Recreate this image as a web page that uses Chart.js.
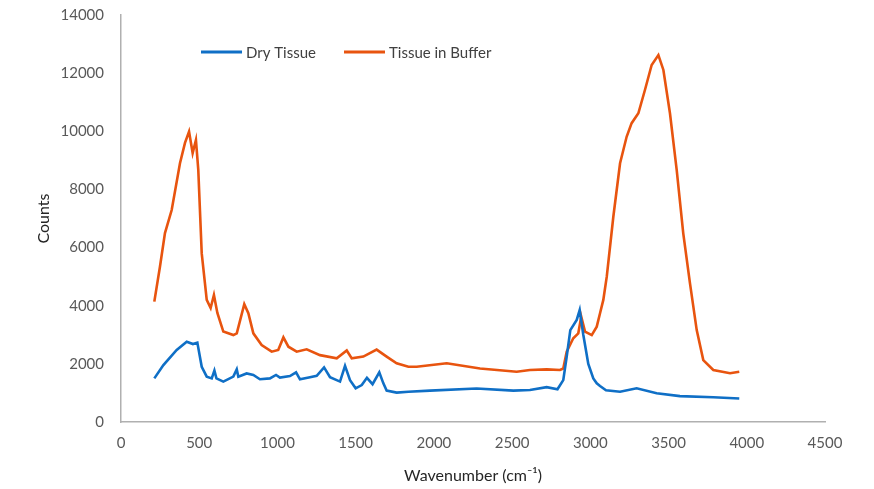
<!DOCTYPE html>
<html>
<head>
<meta charset="utf-8">
<script src="https://cdn.jsdelivr.net/npm/chart.js@4"></script>
<style>
html,body{margin:0;padding:0;background:#fff;}
#wrap{width:874px;height:489px;position:relative;}
</style>
</head>
<body>
<div id="wrap"><canvas id="c" width="874" height="489"></canvas></div>
<script>
const seriesNames = ["Dry Tissue", "Tissue in Buffer"];
const seriesColors = ["#0F6FC6", "#E8540F"];
const xTickValues = [0,500,1000,1500,2000,2500,3000,3500,4000,4500];
const yTickValues = [0,2000,4000,6000,8000,10000,12000,14000];

const dryX = [213,271,356,420,460,488,516,548,580,597,610,654,718,740,750,803,846,888,952,991,1016,1080,1119,1144,1208,1251,1298,1336,1400,1432,1464,1500,1539,1572,1608,1651,1677,1698,1762,1837,1975,2273,2508,2614,2721,2790,2827,2849,2872,2913,2932,2955,2987,3019,3041,3062,3100,3190,3296,3424,3573,3786,3952];
const dryY = [1500,1960,2480,2760,2680,2730,1900,1560,1500,1770,1500,1390,1560,1810,1560,1670,1620,1470,1500,1620,1530,1580,1710,1470,1540,1590,1880,1540,1390,1930,1440,1160,1270,1520,1300,1710,1330,1080,1010,1040,1080,1150,1080,1100,1200,1125,1440,2250,3160,3510,3850,3000,2000,1500,1330,1240,1090,1040,1160,990,890,850,810];

const bufX = [213,249,281,324,377,409,435,458,479,494,516,548,573,594,616,654,718,740,788,814,846,899,963,1005,1038,1070,1123,1187,1272,1379,1443,1475,1549,1634,1698,1762,1837,1890,2082,2295,2529,2614,2721,2806,2827,2849,2891,2923,2942,2966,3009,3041,3062,3083,3105,3147,3190,3232,3264,3307,3349,3392,3435,3467,3509,3552,3594,3637,3680,3722,3786,3893,3952];
const bufY = [4140,5340,6500,7290,8900,9600,9990,9250,9700,8670,5800,4200,3920,4370,3750,3110,2990,3050,4050,3740,3050,2650,2420,2480,2910,2590,2420,2500,2300,2190,2460,2190,2250,2490,2250,2020,1900,1900,2020,1840,1730,1790,1810,1790,1840,2420,2880,3050,3620,3110,2990,3280,3740,4200,5000,7060,8900,9810,10280,10620,11420,12280,12620,12110,10620,8670,6490,4770,3160,2130,1790,1680,1730];

const toPts = (xs, ys) => xs.map((x, i) => ({x: x, y: ys[i]}));
const FONT = "Lato, 'Open Sans', sans-serif";

const legendPlugin = {
  id: 'customLegend',
  afterDraw(chart) {
    const ctx = chart.ctx;
    const pos = [{x: 201, y: 52}, {x: 344, y: 52}];
    ctx.save();
    ctx.font = "15px " + FONT;
    ctx.textBaseline = 'middle';
    chart.data.datasets.forEach((ds, i) => {
      const p = pos[i];
      ctx.strokeStyle = ds.borderColor;
      ctx.lineWidth = 3;
      ctx.beginPath();
      ctx.moveTo(p.x, p.y);
      ctx.lineTo(p.x + 41, p.y);
      ctx.stroke();
      ctx.fillStyle = '#404040';
      ctx.fillText(ds.label, p.x + 45, p.y + 1);
    });
    ctx.restore();
  }
};

new Chart(document.getElementById('c'), {
  type: 'line',
  data: {
    datasets: [
      {label: seriesNames[0], data: toPts(dryX, dryY), borderColor: seriesColors[0], borderWidth: 2.6, pointRadius: 0, fill: false, tension: 0},
      {label: seriesNames[1], data: toPts(bufX, bufY), borderColor: seriesColors[1], borderWidth: 2.6, pointRadius: 0, fill: false, tension: 0}
    ]
  },
  options: {
    responsive: false,
    animation: false,
    layout: {padding: {left: 30, right: 49, top: 15, bottom: 0}},
    plugins: {legend: {display: false}, tooltip: {enabled: false}},
    scales: {
      x: {
        type: 'linear', min: 0, max: 4500,
        afterBuildTicks: s => { s.ticks = xTickValues.map(v => ({value: v})); },
        afterFit: s => { s.height = 67; s.paddingLeft = 0; s.paddingRight = 0; },
        grid: {display: false, drawTicks: false},
        border: {display: true, color: '#B0B0B0', width: 1.5},
        ticks: {color: '#595959', font: {size: 15, family: FONT}, padding: 12, maxRotation: 0, autoSkip: false, callback: v => String(v)},
        title: {display: true, text: 'Wavenumber (cm\u207B\u00B9)', color: '#262626', font: {size: 16, family: FONT}, padding: {top: 4}}
      },
      y: {
        type: 'linear', min: 0, max: 14000,
        afterBuildTicks: s => { s.ticks = yTickValues.map(v => ({value: v})); },
        afterFit: s => { s.width = 91; s.paddingTop = 0; s.paddingBottom = 0; },
        grid: {display: false, drawTicks: false},
        border: {display: true, color: '#B0B0B0', width: 1.5},
        ticks: {color: '#595959', font: {size: 15, family: FONT}, padding: 17, autoSkip: false, callback: v => String(v)},
        title: {display: true, text: 'Counts', color: '#262626', font: {size: 16, family: FONT}, padding: {bottom: 2}}
      }
    }
  },
  plugins: [legendPlugin]
});
</script>
</body>
</html>
